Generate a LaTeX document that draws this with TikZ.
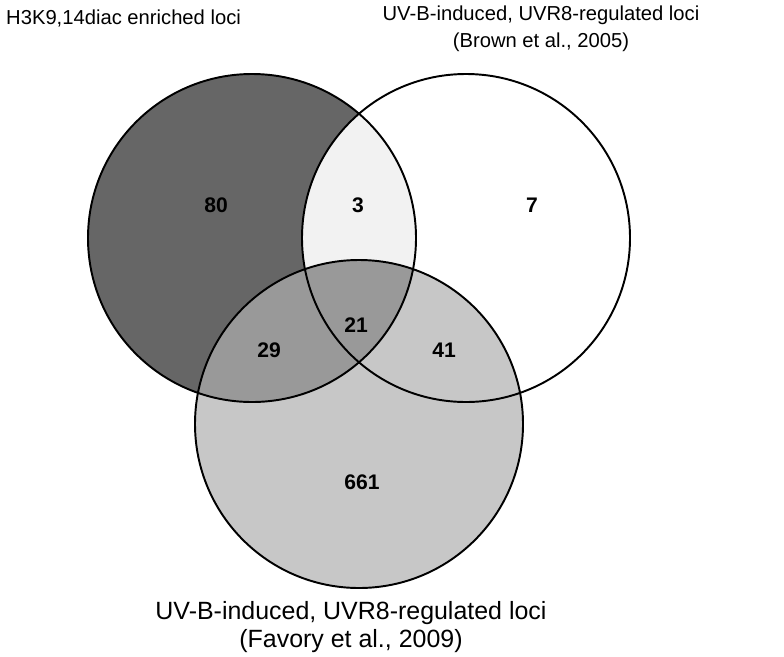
\documentclass[tikz,border=0pt]{standalone}
\usepackage{fontspec}
\setmainfont{Liberation Sans}
\begin{document}
\begin{tikzpicture}[x=0.02cm,y=-0.02cm,
  ring/.style={draw=black,line width=1.1pt},
  num/.style={font=\bfseries\fontsize{12}{14}\selectfont},
  lab/.style={font=\fontsize{11.5}{15.3}\selectfont,align=center},
  labb/.style={font=\fontsize{14.2}{16.4}\selectfont,align=center}]
\useasboundingbox (0,0) rectangle (784,656);
\def\A{(252,238) circle (164)}
\def\B{(466,238) circle (164)}
\def\C{(359,424) circle (164)}
\fill[fill=black!60] \A;
\fill[white] \B;
\fill[black!22] \C;
\begin{scope}\clip \A; \fill[black!5] \B; \fill[black!40] \C; \end{scope}
\draw[ring] \A; \draw[ring] \B; \draw[ring] \C;
\node[num] (n80) at (216,205) {80};
\node[num] (n3) at (358,205) {3};
\node[num] (n7) at (532,205) {7};
\node[num] (n21) at (356,325) {21};
\node[num] (n29) at (269,350) {29};
\node[num] (n41) at (444,350) {41};
\node[num] (n661) at (362,482) {661};
\node[lab,anchor=west] (la) at (0,18) {H3K9,14diac enriched loci};
\node[lab] (lb) at (541,29) {UV-B-induced, UVR8-regulated loci\\(Brown et al., 2005)};
\node[labb] (lc) at (351,627) {UV-B-induced, UVR8-regulated loci\\(Favory et al., 2009)};
\end{tikzpicture}
\end{document}
